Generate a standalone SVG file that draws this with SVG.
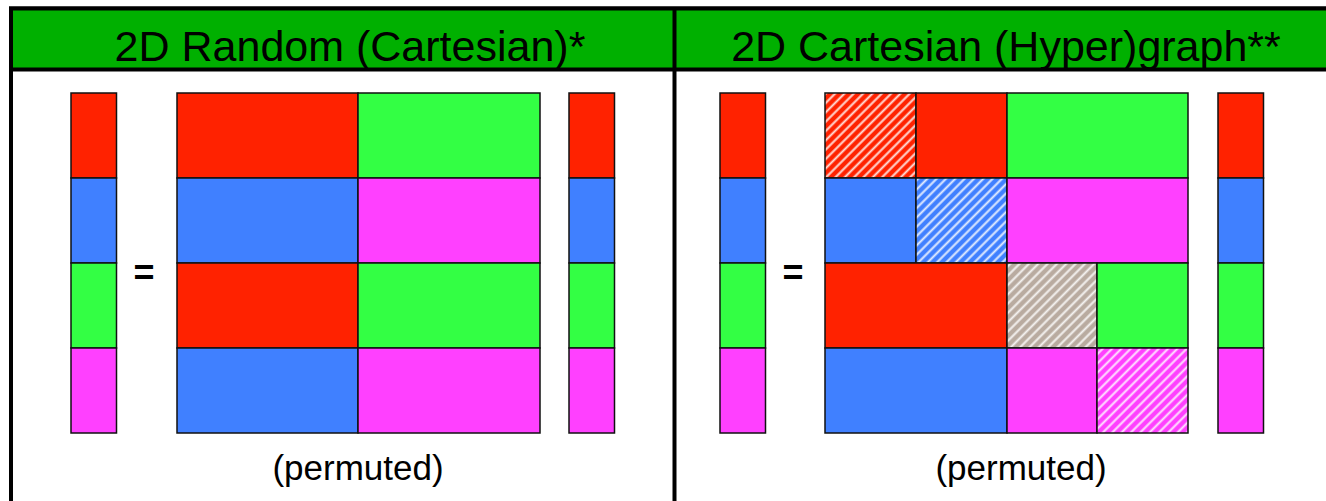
<svg xmlns="http://www.w3.org/2000/svg" width="1326" height="501" viewBox="0 0 1326 501">
<style>
.b{stroke:#111;stroke-width:1.5}
.r{fill:#ff2200}.g{fill:#33ff44}.u{fill:#4080ff}.m{fill:#ff40ff}.y{fill:#b9aba0}
.h{fill:url(#hatch)}
.t{font-family:"Liberation Sans",Arial,sans-serif;fill:#000}
</style>
<defs>
<pattern id="hatch" width="6.6" height="6.6" patternUnits="userSpaceOnUse" patternTransform="rotate(45)">
<line x1="3.3" y1="0" x2="3.3" y2="6.6" stroke="#fff" stroke-width="2" opacity="0.85"/>
</pattern>
</defs>
<rect x="0" y="0" width="1326" height="501" fill="#fff"/>
<g id="frame">
<rect x="11" y="8.5" width="1330" height="500" fill="#fff" stroke="#000" stroke-width="4"/>
<rect x="11" y="8.5" width="1330" height="61" fill="#00b000" stroke="#000" stroke-width="4"/>
<line x1="674.5" y1="8" x2="674.5" y2="501" stroke="#000" stroke-width="4"/>
</g>
<g id="header-left"><text class="t" x="350" y="61" font-size="43" text-anchor="middle">2D Random (Cartesian)*</text></g>
<g id="header-right"><text class="t" x="1006" y="61" font-size="43" text-anchor="middle">2D Cartesian (Hyper)graph**</text></g>
<g id="left-vec1">
<rect class="b r" x="71" y="93" width="45.5" height="85"/>
<rect class="b u" x="71" y="178" width="45.5" height="85"/>
<rect class="b g" x="71" y="263" width="45.5" height="85"/>
<rect class="b m" x="71" y="348" width="45.5" height="85"/>
</g>
<g id="left-eq"><text class="t" x="144" y="285" font-size="36" font-weight="bold" text-anchor="middle">=</text></g>
<g id="left-matrix">
<rect class="b r" x="177" y="93" width="181" height="85"/>
<rect class="b g" x="358" y="93" width="182" height="85"/>
<rect class="b u" x="177" y="178" width="181" height="85"/>
<rect class="b m" x="358" y="178" width="182" height="85"/>
<rect class="b r" x="177" y="263" width="181" height="85"/>
<rect class="b g" x="358" y="263" width="182" height="85"/>
<rect class="b u" x="177" y="348" width="181" height="85"/>
<rect class="b m" x="358" y="348" width="182" height="85"/>
</g>
<g id="left-vec2">
<rect class="b r" x="569" y="93" width="45.5" height="85"/>
<rect class="b u" x="569" y="178" width="45.5" height="85"/>
<rect class="b g" x="569" y="263" width="45.5" height="85"/>
<rect class="b m" x="569" y="348" width="45.5" height="85"/>
</g>
<g id="left-label"><text class="t" x="358" y="480" font-size="35" text-anchor="middle">(permuted)</text></g>
<g id="right-vec1">
<rect class="b r" x="720" y="93" width="45.5" height="85"/>
<rect class="b u" x="720" y="178" width="45.5" height="85"/>
<rect class="b g" x="720" y="263" width="45.5" height="85"/>
<rect class="b m" x="720" y="348" width="45.5" height="85"/>
</g>
<g id="right-eq"><text class="t" x="793" y="285" font-size="36" font-weight="bold" text-anchor="middle">=</text></g>
<g id="right-matrix">
<rect class="r" x="825" y="93" width="91" height="85"/><rect class="b h" x="825" y="93" width="91" height="85"/>
<rect class="b r" x="916" y="93" width="91" height="85"/>
<rect class="b g" x="1007" y="93" width="181" height="85"/>
<rect class="b u" x="825" y="178" width="91" height="85"/>
<rect class="u" x="916" y="178" width="91" height="85"/><rect class="b h" x="916" y="178" width="91" height="85"/>
<rect class="b m" x="1007" y="178" width="181" height="85"/>
<rect class="b r" x="825" y="263" width="182" height="85"/>
<rect class="y" x="1007" y="263" width="90" height="85"/><rect class="b h" x="1007" y="263" width="90" height="85"/>
<rect class="b g" x="1097" y="263" width="91" height="85"/>
<rect class="b u" x="825" y="348" width="182" height="85"/>
<rect class="b m" x="1007" y="348" width="90" height="85"/>
<rect class="m" x="1097" y="348" width="91" height="85"/><rect class="b h" x="1097" y="348" width="91" height="85"/>
</g>
<g id="right-vec2">
<rect class="b r" x="1218" y="93" width="45.5" height="85"/>
<rect class="b u" x="1218" y="178" width="45.5" height="85"/>
<rect class="b g" x="1218" y="263" width="45.5" height="85"/>
<rect class="b m" x="1218" y="348" width="45.5" height="85"/>
</g>
<g id="right-label"><text class="t" x="1021" y="480" font-size="35" text-anchor="middle">(permuted)</text></g>
</svg>
